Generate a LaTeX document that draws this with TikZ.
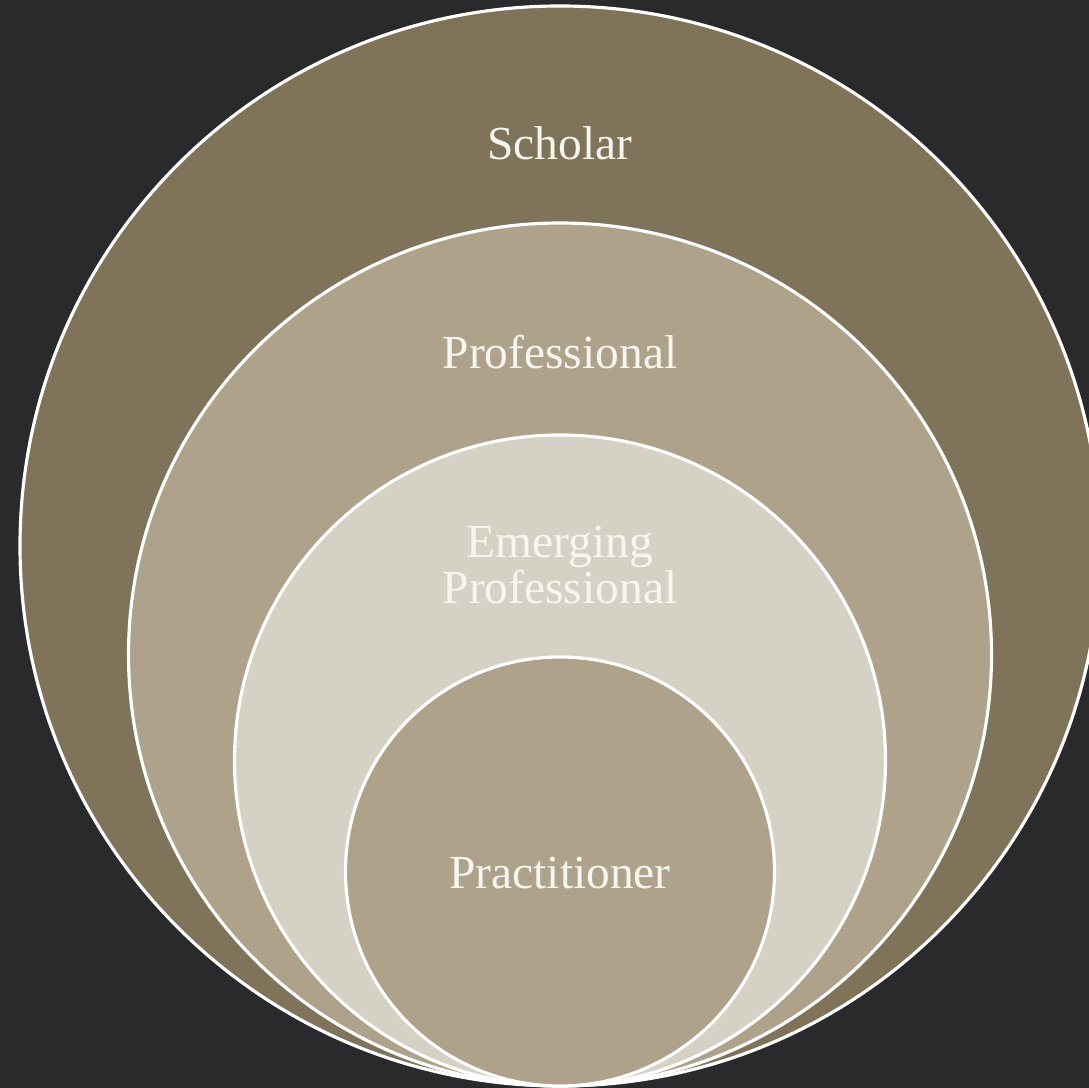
\documentclass[tikz,border=0pt]{standalone}
\usepackage{fontspec}
\setmainfont{Liberation Serif}
\usetikzlibrary{calc}
\definecolor{bgdark}{HTML}{2A2A2C}
\definecolor{ringouter}{HTML}{7F735A}
\definecolor{ringmid}{HTML}{AEA28A}
\definecolor{ringlight}{HTML}{D6D1C5}
\definecolor{labeltext}{HTML}{F7F5F0}
\tikzset{
	ring/.style={draw=white, line width=1.8pt},
	ringlabel/.style={text=labeltext, align=center, font=\fontsize{27}{23}\selectfont}
}

\begin{document}
\begin{tikzpicture}[x=0.02cm, y=0.02cm]
		%%%%% START %%%%%
		\fill[bgdark] (0, 0) rectangle (1089, 1088);
		\useasboundingbox (0, 0) rectangle (1089, 1088);
		
		\draw[ring, fill=ringouter] (560, 542) circle (540);
		\draw[ring, fill=ringmid] (560, 433.5) circle (431.5);
		\draw[ring, fill=ringlight] (560, 327.5) circle (325.5);
		\draw[ring, fill=ringmid] (560, 216.5) circle (214.5);
		
		\node[ringlabel] (scholar) at (560, 945) {Scholar};
		\node[ringlabel] (professional) at (560, 736) {Professional};
		\node[ringlabel] (emerging) at (560, 523) {Emerging\\Professional};
		\node[ringlabel] (practitioner) at (560, 215) {Practitioner};
		%%%%% END %%%%%
	\end{tikzpicture}
\end{document}
